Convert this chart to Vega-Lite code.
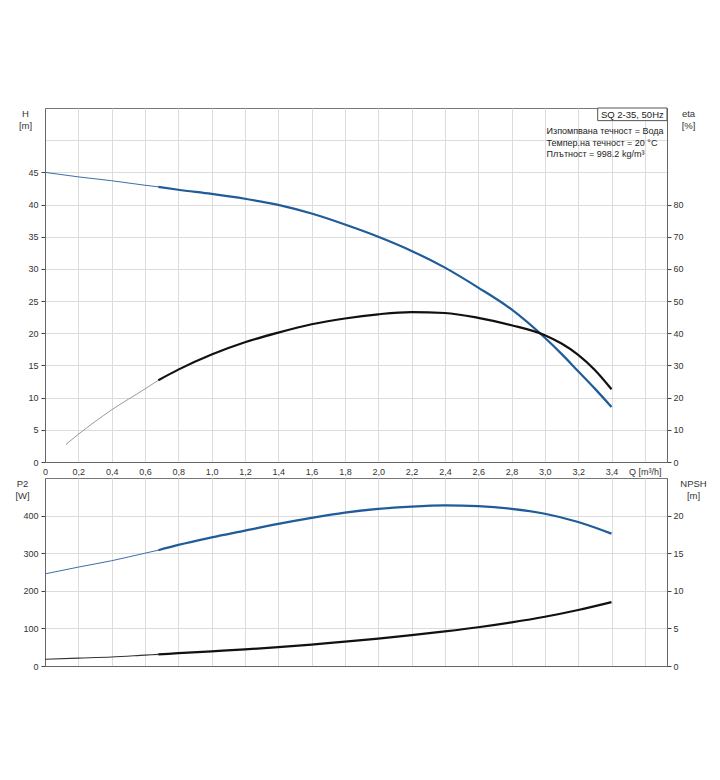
{
  "$schema": "https://vega.github.io/schema/vega-lite/v6.json",
  "padding": {"left": 14, "top": 107, "right": 5, "bottom": 5},
  "spacing": 0,
  "config": {
    "font": "Liberation Sans",
    "view": {"stroke": "#777", "strokeWidth": 1},
    "axis": {
      "labelFont": "Liberation Sans", "labelFontSize": 9, "labelColor": "#333",
      "titleFont": "Liberation Sans", "titleFontSize": 9.5, "titleFontWeight": "normal", "titleColor": "#333",
      "gridColor": "#dcdcdc", "gridWidth": 1, "domainColor": "#666", "tickColor": "#444", "tickSize": 4, "labelPadding": 3
    }
  },
  "datasets": {
    "head": [
      {"Q": 0.0, "H": 45.0}, {"Q": 0.2, "H": 44.3}, {"Q": 0.4, "H": 43.7}, {"Q": 0.6, "H": 43.0},
      {"Q": 0.68, "H": 42.75}, {"Q": 0.8, "H": 42.3}, {"Q": 1.0, "H": 41.65}, {"Q": 1.2, "H": 40.9},
      {"Q": 1.4, "H": 39.95}, {"Q": 1.6, "H": 38.6}, {"Q": 1.8, "H": 36.9}, {"Q": 2.0, "H": 35.0},
      {"Q": 2.2, "H": 32.8}, {"Q": 2.4, "H": 30.2}, {"Q": 2.6, "H": 27.1}, {"Q": 2.8, "H": 23.7},
      {"Q": 3.0, "H": 19.3}, {"Q": 3.1, "H": 16.8}, {"Q": 3.2, "H": 14.1}, {"Q": 3.3, "H": 11.4}, {"Q": 3.4, "H": 8.55}
    ],
    "eff": [
      {"Q": 0.126, "eta": 5.5}, {"Q": 0.2, "eta": 8.6}, {"Q": 0.4, "eta": 16.2}, {"Q": 0.6, "eta": 22.7},
      {"Q": 0.68, "eta": 25.4}, {"Q": 0.8, "eta": 28.7}, {"Q": 1.0, "eta": 33.4}, {"Q": 1.2, "eta": 37.2},
      {"Q": 1.4, "eta": 40.2}, {"Q": 1.6, "eta": 42.8}, {"Q": 1.8, "eta": 44.6}, {"Q": 2.0, "eta": 45.9},
      {"Q": 2.2, "eta": 46.6}, {"Q": 2.4, "eta": 46.3}, {"Q": 2.6, "eta": 44.8}, {"Q": 2.8, "eta": 42.5},
      {"Q": 3.0, "eta": 39.4}, {"Q": 3.1, "eta": 36.8}, {"Q": 3.2, "eta": 33.3}, {"Q": 3.3, "eta": 28.6}, {"Q": 3.4, "eta": 22.6}
    ],
    "power": [
      {"Q": 0.0, "P2": 245}, {"Q": 0.2, "P2": 263}, {"Q": 0.4, "P2": 280}, {"Q": 0.6, "P2": 300},
      {"Q": 0.68, "P2": 308}, {"Q": 0.8, "P2": 322}, {"Q": 1.0, "P2": 342}, {"Q": 1.2, "P2": 360},
      {"Q": 1.4, "P2": 378}, {"Q": 1.6, "P2": 394}, {"Q": 1.8, "P2": 408}, {"Q": 2.0, "P2": 418},
      {"Q": 2.2, "P2": 424}, {"Q": 2.4, "P2": 427}, {"Q": 2.6, "P2": 425}, {"Q": 2.8, "P2": 418},
      {"Q": 3.0, "P2": 405}, {"Q": 3.2, "P2": 383}, {"Q": 3.4, "P2": 352}
    ],
    "npsh": [
      {"Q": 0.0, "NPSH": 0.9}, {"Q": 0.2, "NPSH": 1.05}, {"Q": 0.4, "NPSH": 1.2}, {"Q": 0.6, "NPSH": 1.45},
      {"Q": 0.68, "NPSH": 1.55}, {"Q": 0.8, "NPSH": 1.7}, {"Q": 1.0, "NPSH": 1.95}, {"Q": 1.2, "NPSH": 2.2},
      {"Q": 1.4, "NPSH": 2.5}, {"Q": 1.6, "NPSH": 2.85}, {"Q": 1.8, "NPSH": 3.25}, {"Q": 2.0, "NPSH": 3.65},
      {"Q": 2.2, "NPSH": 4.1}, {"Q": 2.4, "NPSH": 4.6}, {"Q": 2.6, "NPSH": 5.15}, {"Q": 2.8, "NPSH": 5.8},
      {"Q": 3.0, "NPSH": 6.55}, {"Q": 3.2, "NPSH": 7.45}, {"Q": 3.4, "NPSH": 8.5}
    ],
    "info": [
      {"pump": "SQ 2-35, 50Hz", "liquid": "Изпомпвана течност = Вода", "temp": "Темпер.на течност = 20 °C", "density": "Плътност = 998.2 kg/m³"}
    ]
  },
  "vconcat": [
    {
      "width": 622,
      "height": 354,
      "layer": [
        {
          "encoding": {
            "x": {
              "field": "Q", "type": "quantitative",
              "scale": {"domain": [0, 3.733], "nice": false, "zero": false},
              "axis": {
                "title": null, "values": [0, 0.2, 0.4, 0.6, 0.8, 1.0, 1.2, 1.4, 1.6, 1.8, 2.0, 2.2, 2.4, 2.6, 2.8, 3.0, 3.2, 3.4, 3.6],
                "labelExpr": "datum.value == 3.6 ? 'Q [m³/h]' : (datum.value == 0 ? '0' : replace(format(datum.value, '.1f'), '.', ','))",
                "ticks": false, "grid": true, "labelPadding": 5, "labelFlush": false, "labelOverlap": false
              }
            },
            "y": {
              "field": "H", "type": "quantitative",
              "scale": {"domain": [0, 55], "nice": false},
              "axis": {
                "values": [0, 5, 10, 15, 20, 25, 30, 35, 40, 45, 50],
                "labelExpr": "datum.value > 45 ? '' : datum.label",
                "labelOverlap": false,
                "tickOpacity": {"condition": {"test": "datum.value > 45", "value": 0}, "value": 1},
                "grid": true,
                "title": ["H", "[m]"], "titleAngle": 0, "titleAlign": "center", "titleBaseline": "top",
                "titleX": -20, "titleY": 0, "titleLineHeight": 12
              }
            }
          },
          "layer": [
            {
              "data": {"name": "head"},
              "transform": [{"filter": "datum.Q <= 0.68"}],
              "mark": {"type": "line", "color": "#3a6fab", "strokeWidth": 1, "interpolate": "monotone"}
            },
            {
              "data": {"name": "head"},
              "transform": [{"filter": "datum.Q >= 0.68"}],
              "mark": {"type": "line", "color": "#1f5c99", "strokeWidth": 2.2, "interpolate": "monotone"}
            }
          ]
        },
        {
          "encoding": {
            "x": {
              "field": "Q", "type": "quantitative",
              "scale": {"domain": [0, 3.733], "nice": false, "zero": false},
              "axis": null
            },
            "y": {
              "field": "eta", "type": "quantitative",
              "scale": {"domain": [0, 110], "nice": false},
              "axis": {
                "orient": "right", "values": [0, 10, 20, 30, 40, 50, 60, 70, 80], "grid": false,
                "labelPadding": 2, "labelOverlap": false,
                "title": ["eta", "[%]"], "titleAngle": 0, "titleAlign": "center", "titleBaseline": "top",
                "titleX": 21, "titleY": 0, "titleLineHeight": 12
              }
            }
          },
          "layer": [
            {
              "data": {"name": "eff"},
              "transform": [{"filter": "datum.Q <= 0.68"}],
              "mark": {"type": "line", "color": "#999", "strokeWidth": 1, "interpolate": "monotone"}
            },
            {
              "data": {"name": "eff"},
              "transform": [{"filter": "datum.Q >= 0.68"}],
              "mark": {"type": "line", "color": "#111", "strokeWidth": 2.2, "interpolate": "monotone"}
            }
          ]
        },
        {
          "data": {"name": "info"},
          "layer": [
            {
              "mark": {"type": "rect", "fill": "white", "stroke": "#555", "strokeWidth": 1},
              "encoding": {
                "x": {"datum": 3.317, "type": "quantitative", "scale": {"domain": [0, 3.733], "nice": false, "zero": false}, "axis": null},
                "x2": {"datum": 3.733},
                "y": {"datum": 55, "type": "quantitative", "scale": {"domain": [0, 55], "nice": false}, "axis": null},
                "y2": {"datum": 53.04}
              }
            },
            {
              "mark": {"type": "text", "font": "Liberation Sans", "fontSize": 9.5, "color": "#222", "align": "center", "baseline": "middle"},
              "encoding": {
                "text": {"field": "pump"},
                "x": {"datum": 3.525, "type": "quantitative"},
                "y": {"datum": 53.93, "type": "quantitative"}
              }
            },
            {
              "mark": {"type": "text", "font": "Liberation Sans", "fontSize": 9, "color": "#222", "align": "left", "baseline": "middle"},
              "encoding": {
                "text": {"field": "liquid"},
                "x": {"datum": 3.01, "type": "quantitative"},
                "y": {"datum": 51.35, "type": "quantitative"}
              }
            },
            {
              "mark": {"type": "text", "font": "Liberation Sans", "fontSize": 9, "color": "#222", "align": "left", "baseline": "middle"},
              "encoding": {
                "text": {"field": "temp"},
                "x": {"datum": 3.01, "type": "quantitative"},
                "y": {"datum": 49.55, "type": "quantitative"}
              }
            },
            {
              "mark": {"type": "text", "font": "Liberation Sans", "fontSize": 9, "color": "#222", "align": "left", "baseline": "middle"},
              "encoding": {
                "text": {"field": "density"},
                "x": {"datum": 3.01, "type": "quantitative"},
                "y": {"datum": 47.85, "type": "quantitative"}
              }
            }
          ]
        }
      ],
      "resolve": {"scale": {"x": "independent", "y": "independent"}}
    },
    {
      "width": 622,
      "height": 188,
      "encoding": {
        "x": {
          "field": "Q", "type": "quantitative",
          "scale": {"domain": [0, 3.733], "nice": false, "zero": false},
          "axis": {
            "title": null, "values": [0, 0.2, 0.4, 0.6, 0.8, 1.0, 1.2, 1.4, 1.6, 1.8, 2.0, 2.2, 2.4, 2.6, 2.8, 3.0, 3.2, 3.4, 3.6],
            "labels": false, "ticks": false, "grid": true
          }
        }
      },
      "layer": [
        {
          "encoding": {
            "y": {
              "field": "P2", "type": "quantitative",
              "scale": {"domain": [0, 500], "nice": false},
              "axis": {
                "values": [0, 100, 200, 300, 400], "grid": true, "labelOverlap": false,
                "title": ["P2", "[W]"], "titleAngle": 0, "titleAlign": "center", "titleBaseline": "top",
                "titleX": -23, "titleY": 0, "titleLineHeight": 12
              }
            }
          },
          "layer": [
            {
              "data": {"name": "power"},
              "transform": [{"filter": "datum.Q <= 0.68"}],
              "mark": {"type": "line", "color": "#3a6fab", "strokeWidth": 1, "interpolate": "monotone"}
            },
            {
              "data": {"name": "power"},
              "transform": [{"filter": "datum.Q >= 0.68"}],
              "mark": {"type": "line", "color": "#1f5c99", "strokeWidth": 2.2, "interpolate": "monotone"}
            }
          ]
        },
        {
          "encoding": {
            "y": {
              "field": "NPSH", "type": "quantitative",
              "scale": {"domain": [0, 25], "nice": false},
              "axis": {
                "orient": "right", "values": [0, 5, 10, 15, 20], "grid": false,
                "labelPadding": 2, "labelOverlap": false,
                "title": ["NPSH", "[m]"], "titleAngle": 0, "titleAlign": "center", "titleBaseline": "top",
                "titleX": 26, "titleY": 0, "titleLineHeight": 12
              }
            }
          },
          "layer": [
            {
              "data": {"name": "npsh"},
              "transform": [{"filter": "datum.Q <= 0.68"}],
              "mark": {"type": "line", "color": "#333", "strokeWidth": 1.1, "interpolate": "monotone"}
            },
            {
              "data": {"name": "npsh"},
              "transform": [{"filter": "datum.Q >= 0.68"}],
              "mark": {"type": "line", "color": "#111", "strokeWidth": 2.2, "interpolate": "monotone"}
            }
          ]
        }
      ],
      "resolve": {"scale": {"y": "independent"}}
    }
  ]
}
